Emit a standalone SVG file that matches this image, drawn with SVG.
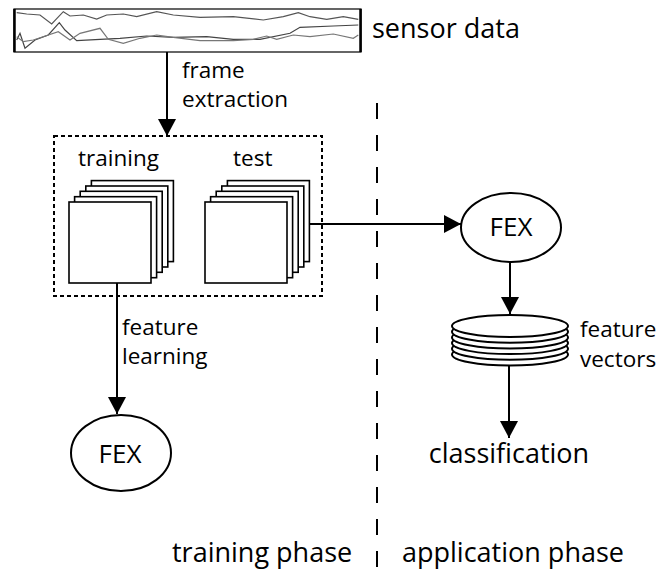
<svg xmlns="http://www.w3.org/2000/svg" width="670" height="572" viewBox="0 0 670 572">
<defs>
<style>
text{font-family:"Open Sans","DejaVu Sans",sans-serif;fill:#000}
.big{font-size:27px}
.sm{font-size:22.5px}
.fex{font-size:26px}
.sq{fill:#fff;stroke:#000;stroke-width:1.6}
.ell{fill:#fff;stroke:#000;stroke-width:2}
.conn{stroke:#000;stroke-width:2;fill:none}
.sig{fill:none;stroke-width:1.2}
</style>
<marker id="ah" markerUnits="userSpaceOnUse" markerWidth="18" markerHeight="18" viewBox="0 0 18 18" refX="17" refY="9" orient="auto">
<path d="M0,0 L17,9 L0,18 Z" fill="#000"/>
</marker>
</defs>

<g id="sensor">
<rect x="14" y="9" width="347" height="43" fill="#fff" stroke="#000" stroke-width="1.2"/>
<line x1="14.5" y1="9" x2="14.5" y2="52" stroke="#000" stroke-width="2.5"/>
<line x1="360.5" y1="9" x2="360.5" y2="52" stroke="#000" stroke-width="2.5"/>
<polyline class="sig" stroke="#555" points="16.7,12.7 26.7,14 40,15 51.7,24 63.3,11.7 70,16 83.3,15 96.7,19 106.7,15 123.3,14 136.7,16.7 156.7,11.7 173.3,15 200,17.3 233.3,16.7 263.3,20 283.3,16.7 298.3,12.7 310,16.7 326.7,19.3 343.3,16.7 358.3,19.3"/>
<polyline class="sig" stroke="#444" points="16.7,40 20,33.3 25,48.3 35,40 48.3,35 59.3,22.7 65,30 76.7,40.7 100,39.3 120,38.3 146.7,36 173.3,37.3 206.7,36.7 233.3,39.3 260,39.3 290,33.3 300,27.3 333.3,26 358.3,25"/>
<polyline class="sig" stroke="#777" points="16.7,36.7 23.3,41.7 33.3,40 58.3,31.7 70,40 80,33.3 100,28.3 108.3,39.3 123.3,43.3 140,38.3 156.7,35 173.3,37.3 200,40.7 233.3,40.7 253.3,39.3 266.7,36 276.7,39.3 293.3,35 310,36.7 333.3,34 353.3,38.3 358.3,35"/>
<text class="big" x="372" y="38">sensor data</text>
</g>

<g id="frames">
<rect x="54" y="136" width="268" height="160" fill="none" stroke="#000" stroke-width="2" stroke-dasharray="4 3"/>
</g>

<g id="training">
<text class="sm" x="78" y="166">training</text>
<rect class="sq" x="91.4" y="180.6" width="82" height="81"/>
<rect class="sq" x="85.8" y="186" width="82" height="81"/>
<rect class="sq" x="80.2" y="191.3" width="82" height="81"/>
<rect class="sq" x="74.6" y="196.7" width="82" height="81"/>
<rect class="sq" x="69" y="202" width="82" height="81"/>
</g>

<g id="test">
<text class="sm" x="233" y="166">test</text>
<rect class="sq" x="227.4" y="180.6" width="82" height="81"/>
<rect class="sq" x="221.8" y="186" width="82" height="81"/>
<rect class="sq" x="216.2" y="191.3" width="82" height="81"/>
<rect class="sq" x="210.6" y="196.7" width="82" height="81"/>
<rect class="sq" x="205" y="202" width="82" height="81"/>
</g>

<g id="fex-train">
<ellipse class="ell" cx="121" cy="453" rx="50" ry="38"/>
<text class="fex" x="120" y="463" text-anchor="middle">FEX</text>
</g>

<g id="fex-app">
<ellipse class="ell" cx="511" cy="227.5" rx="50" ry="34.5"/>
<text class="fex" x="511" y="236" text-anchor="middle">FEX</text>
</g>

<g id="feature-vectors">
<ellipse class="ell" cx="510" cy="354.5" rx="58" ry="11" stroke-width="1.6"/>
<ellipse class="ell" cx="510" cy="348.8" rx="58" ry="11" stroke-width="1.6"/>
<ellipse class="ell" cx="510" cy="343.1" rx="58" ry="11" stroke-width="1.6"/>
<ellipse class="ell" cx="510" cy="337.4" rx="58" ry="11" stroke-width="1.6"/>
<ellipse class="ell" cx="510" cy="331.7" rx="58" ry="11" stroke-width="1.6"/>
<ellipse class="ell" cx="510" cy="326" rx="58" ry="11" stroke-width="1.6"/>
<text class="sm" x="580" y="337">feature</text>
<text class="sm" x="580" y="367">vectors</text>
</g>

<g id="classification">
<text class="big" x="509" y="463" text-anchor="middle">classification</text>
</g>

<g id="phases">
<line x1="377" y1="103" x2="377" y2="572" stroke="#000" stroke-width="2" stroke-dasharray="16 16"/>
<text class="big" x="172" y="562">training phase</text>
<text class="big" x="402" y="562">application phase</text>
</g>

<g id="connectors">
<line class="conn" x1="167" y1="52" x2="167" y2="136" marker-end="url(#ah)"/>
<text class="sm" x="182" y="78">frame</text>
<text class="sm" x="182" y="107">extraction</text>
<line class="conn" x1="117" y1="283" x2="117" y2="414" marker-end="url(#ah)"/>
<text class="sm" x="122" y="335">feature</text>
<text class="sm" x="122" y="364">learning</text>
<line class="conn" x1="310" y1="224" x2="461" y2="224" marker-end="url(#ah)"/>
<line class="conn" x1="510" y1="262" x2="510" y2="314" marker-end="url(#ah)"/>
<line class="conn" x1="509" y1="366" x2="509" y2="438" marker-end="url(#ah)"/>
</g>
</svg>
